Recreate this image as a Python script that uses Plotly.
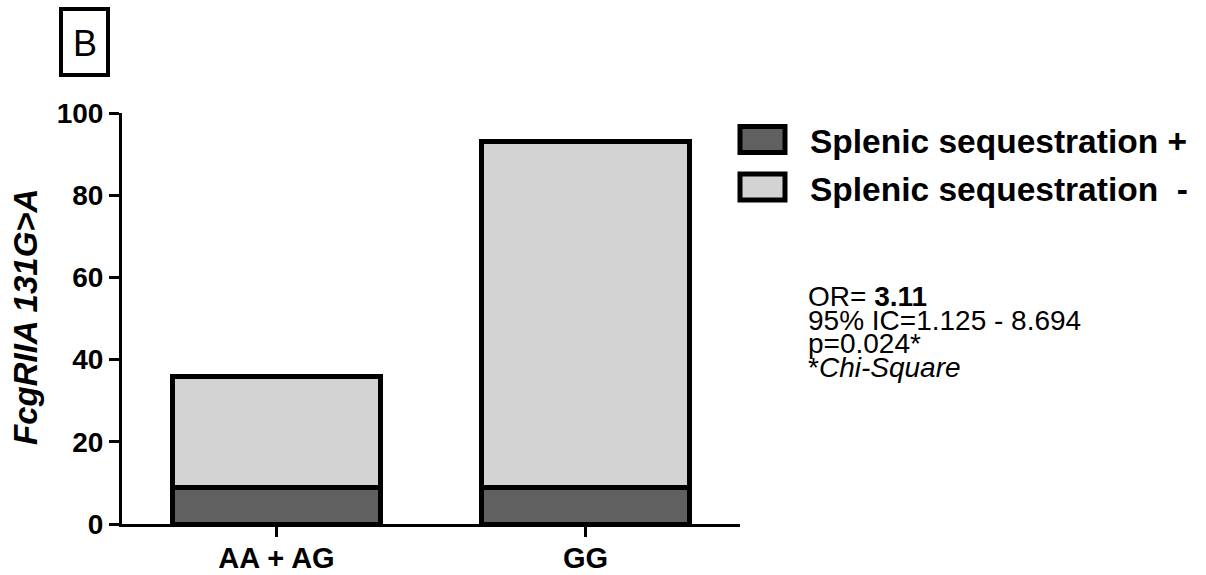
import plotly.graph_objects as go

# Genotype groups and patient counts per sequestration status
genotypes = ["AA + AG", "GG"]
sequestration_pos = [9, 9]
sequestration_neg = [27, 84]
series_names = ["Splenic sequestration +", "Splenic sequestration  -"]
series_colors = ["#606060", "#d3d3d3"]
y_ticks = [0, 20, 40, 60, 80, 100]

stats_lines = [
    "OR= <b>3.11</b>",
    "95% IC=1.125 - 8.694",
    "p=0.024*",
    "*<i>Chi-Square</i>",
]

FONT = "Liberation Sans, Arial, sans-serif"
W, H = 1206, 575
L, R, T, B = 122, 740, 113, 524  # plot area in pixels


def px(x):
    return (x - L) / (R - L)


def py(y):
    return (B - y) / (B - T)


fig = go.Figure()
for vals, name, color in zip([sequestration_pos, sequestration_neg], series_names, series_colors):
    fig.add_trace(go.Bar(
        x=genotypes, y=vals, name=name, width=0.675,
        marker=dict(color=color, line=dict(color="black", width=5)),
        showlegend=False,
    ))

shapes = []
annotations = []

# Panel letter box
shapes.append(dict(type="rect", xref="paper", yref="paper",
                   x0=px(61), x1=px(108), y0=py(75), y1=py(9),
                   line=dict(color="black", width=4), fillcolor="white"))
annotations.append(dict(text="B", xref="paper", yref="paper", x=px(84.5), y=py(43),
                        xanchor="center", yanchor="middle", showarrow=False,
                        font=dict(family=FONT, size=36, color="black")))

# Legend drawn as boxes with labels
legend_rows = [139.5, 187]
for yc, name, color in zip(legend_rows, series_names, series_colors):
    shapes.append(dict(type="rect", xref="paper", yref="paper",
                       x0=px(740), x1=px(785), y0=py(yc + 13), y1=py(yc - 13),
                       line=dict(color="black", width=5), fillcolor=color))
    annotations.append(dict(text="<b>" + name + "</b>", xref="paper", yref="paper",
                            x=px(808), y=py(yc + 2), xanchor="left", yanchor="middle",
                            showarrow=False,
                            font=dict(family=FONT, size=33.5, color="black")))

# Statistics text block
for i, line in enumerate(stats_lines):
    annotations.append(dict(text=line, xref="paper", yref="paper",
                            x=px(806), y=py(296.5 + i * 23.7), xanchor="left", yanchor="middle",
                            showarrow=False,
                            font=dict(family=FONT, size=28, color="black")))

# Y axis title
annotations.append(dict(text="<b><i>FcgRIIA 131G>A</i></b>", xref="paper", yref="paper",
                        x=px(25), y=py(317), xanchor="center", yanchor="middle",
                        textangle=-90, showarrow=False,
                        font=dict(family=FONT, size=33, color="black")))

fig.update_layout(
    width=W, height=H,
    margin=dict(l=L, r=W - R, t=T, b=H - B, pad=0, autoexpand=False),
    barmode="stack",
    plot_bgcolor="white", paper_bgcolor="white",
    font=dict(family=FONT, color="black"),
    shapes=shapes, annotations=annotations,
)
fig.update_xaxes(
    range=[-0.5, 1.5], showgrid=False, zeroline=False, automargin=False,
    showline=True, linecolor="black", linewidth=3,
    ticks="outside", ticklen=10, tickwidth=3, tickcolor="black",
    ticklabelstandoff=-4,
    tickfont=dict(family=FONT, size=29, color="black"),
    tickvals=[0, 1], ticktext=["<b>" + g + "</b>" for g in genotypes],
)
fig.update_yaxes(
    range=[0, 100], showgrid=False, zeroline=False, automargin=False,
    showline=True, linecolor="black", linewidth=3,
    ticks="outside", ticklen=10, tickwidth=3, tickcolor="black",
    tickvals=y_ticks, ticktext=["<b>%d</b>" % v for v in y_ticks],
    tickfont=dict(family=FONT, size=28, color="black"),
)

fig.write_html("out.html")
